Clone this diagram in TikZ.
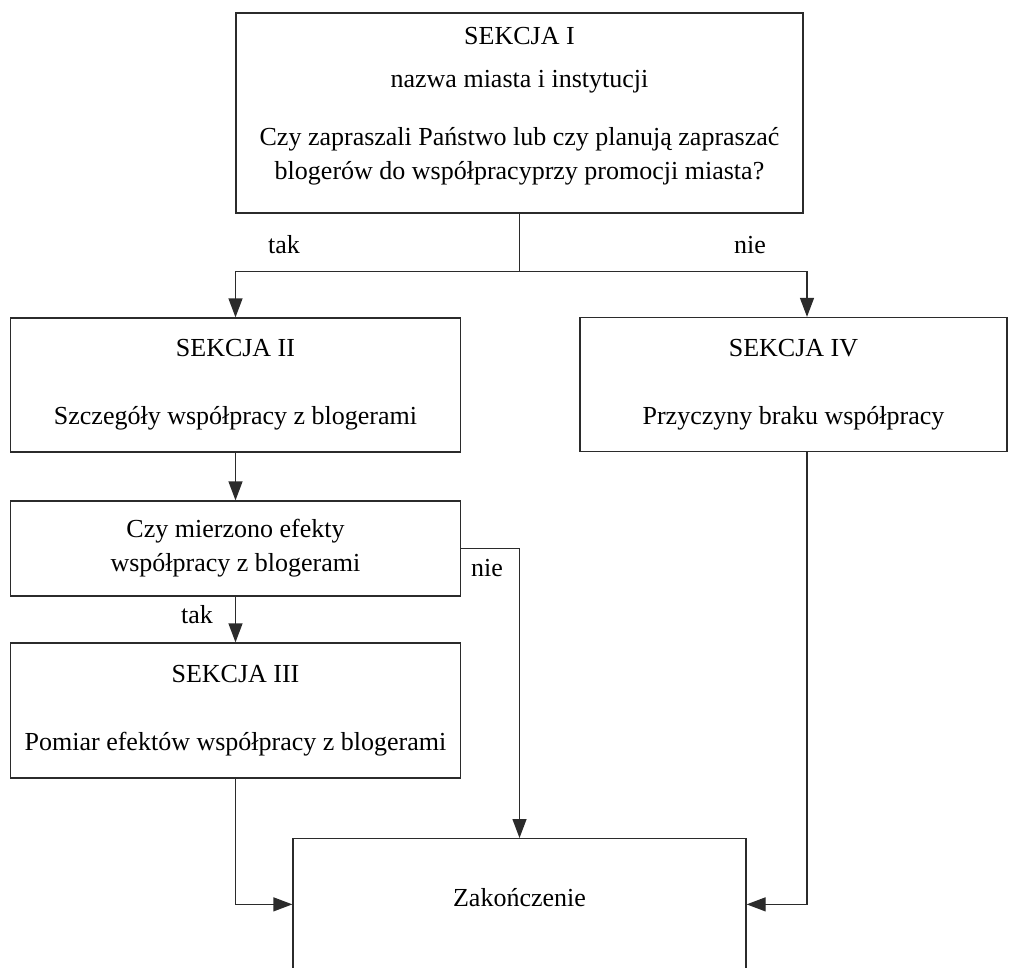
\documentclass[tikz,border=0pt]{standalone}
\usepackage{fontspec}
\setmainfont{Liberation Serif}
\usepackage{tikz}
\usetikzlibrary{arrows.meta}
\definecolor{lnc}{HTML}{2B2B2B}

\begin{document}
\begin{tikzpicture}[
    x=1pt, y=-1pt,
    font=\fontsize{26}{34}\selectfont, >={Triangle[length=19pt,width=14pt]},
    sekcja/.style={rectangle,draw=lnc,line width=1.3pt,fill=white,align=center,
                   inner sep=0pt},
    arr/.style={->,draw=lnc,line width=1.3pt},
    lbl/.style={anchor=base,text=black}]

  \useasboundingbox (0,0) rectangle (1019,967);

  % sekcje
  \node[sekcja,minimum width=567,minimum height=200] (s1) at (519.5,113)
       {SEKCJA I\\[9pt]nazwa miasta i instytucji\\[24pt]
        Czy zapraszali Państwo lub czy planują zapraszać\\
        blogerów do współpracyprzy promocji miasta?\\[-14pt]};
  \node[sekcja,minimum width=450,minimum height=134] (s2) at (235.5,385)
       {SEKCJA II\\[34pt]Szczegóły współpracy z blogerami};
  \node[sekcja,minimum width=427,minimum height=134] (s4) at (793.5,384.5)
       {SEKCJA IV\\[34pt]Przyczyny braku współpracy};
  \node[sekcja,minimum width=450,minimum height=95] (q) at (235.5,548.5)
       {Czy mierzono efekty\\współpracy z blogerami};
  \node[sekcja,minimum width=450,minimum height=135] (s3) at (235.5,710.5)
       {SEKCJA III\\[34pt]Pomiar efektów współpracy z blogerami};
  \node[sekcja,minimum width=453,text height=68pt,text depth=140pt,anchor=north]
       (zak) at (519.5,838) {Zakończenie};

  % polaczenia
  \draw[arr] (s1.south) -- ++(0,58) -| (s2.north);
  \draw[arr] (s1.south) -- ++(0,58) -| ([xshift=13.5]s4.north);
  \draw[arr] (s2) -- (q);
  \draw[arr] (q) -- (s3);
  \draw[arr] (q.east) -| (zak.north);
  \draw[arr] (s3.south) |- (zak.mid west);
  \draw[arr] ([xshift=13.5]s4.south) |- (zak.mid east);

  \node[lbl] (tak1) at (284,253) {tak};
  \node[lbl] (nie1) at (750,253) {nie};
  \node[lbl] (tak2) at (197,623) {tak};
  \node[lbl] (nie2) at (487,576) {nie};
\end{tikzpicture}
\end{document}
